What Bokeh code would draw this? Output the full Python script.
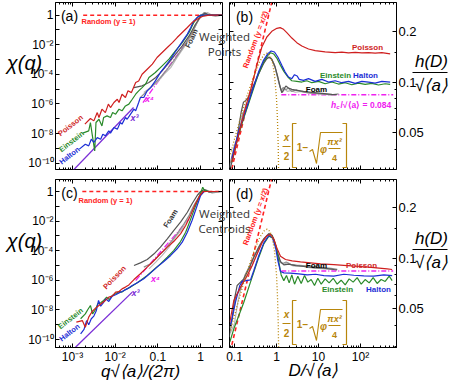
import json
import numpy as np
from bokeh.plotting import figure
from bokeh.models import Range1d, LogAxis, FixedTicker, CustomJSTickFormatter, Label
from bokeh.layouts import row, column
from bokeh.embed import file_html
from bokeh.resources import INLINE

# ======================= DATA =======================
# Panel (a): weighted points, log10 of q*sqrt(<a>)/(2pi) and log10 chi(q)
a_poisson_lq = [-2.71,-2.58,-2.50,-2.42,-2.38,-2.31,-2.23,-2.16,-2.11,-2.03,-1.95,-1.91,-1.84,-1.76,-1.70,-1.62,-1.52,-1.45,-1.37,-1.25,-1.13,-1.02,-0.90,-0.78,-0.66,-0.55,-0.43,-0.31,-0.20,-0.08,0.04,0.20,0.35,0.51]
a_poisson_lchi = [-7.36,-6.98,-7.14,-6.58,-6.91,-6.35,-6.58,-6.01,-6.24,-5.90,-5.68,-5.90,-5.34,-5.56,-5.11,-5.23,-4.55,-4.44,-3.99,-3.65,-3.31,-2.86,-2.52,-2.18,-1.85,-1.51,-1.17,-0.83,-0.50,-0.27,-0.09,0.0,0.0,0.0]
a_einstein_lq = [-2.76,-2.62,-2.58,-2.54,-2.48,-2.45,-2.38,-2.31,-2.27,-2.19,-2.11,-2.06,-1.99,-1.91,-1.84,-1.76,-1.68,-1.60,-1.52,-1.45,-1.37,-1.29,-1.21,-1.06,-0.90,-0.74,-0.59,-0.43,-0.27,-0.16,-0.08,0.0,0.20,0.35,0.51]
a_einstein_lchi = [-7.97,-7.82,-7.25,-8.04,-9.17,-7.25,-7.03,-7.48,-6.91,-6.80,-6.91,-6.58,-6.69,-6.35,-6.46,-6.13,-6.01,-5.68,-5.34,-5.11,-4.89,-4.66,-4.21,-3.87,-3.42,-2.97,-2.41,-1.85,-1.17,-0.50,-0.16,0.0,0.0,0.0,0.0]
a_halton_lq = [-2.84,-2.70,-2.62,-2.56,-2.50,-2.42,-2.34,-2.29,-2.23,-2.15,-2.11,-2.03,-1.95,-1.88,-1.84,-1.76,-1.72,-1.64,-1.56,-1.52,-1.45,-1.41,-1.33,-1.25,-1.17,-1.06,-0.94,-0.82,-0.70,-0.63,-0.55,-0.47,-0.39,-0.31,-0.23,-0.16,-0.08,0.0,0.20,0.35,0.51]
a_halton_lchi = [-9.05,-8.72,-8.83,-8.38,-8.60,-8.27,-8.38,-8.04,-8.15,-7.82,-7.97,-7.59,-7.70,-7.25,-7.36,-6.91,-7.03,-6.69,-6.35,-6.46,-5.90,-5.56,-5.56,-5.11,-4.89,-4.44,-3.87,-3.42,-2.97,-2.64,-2.30,-1.96,-1.62,-1.28,-0.83,-0.38,-0.16,0.0,0.0,0.0,0.0]
a_foam1_lq = [-1.56,-1.37,-1.21,-1.05,-0.90,-0.74,-0.59,-0.43,-0.27,-0.12,0.0,0.10,0.20,0.35,0.53]
a_foam1_lchi = [-4.89,-4.77,-4.55,-4.21,-3.76,-3.20,-2.64,-2.07,-1.40,-0.61,-0.09,0.14,0.0,-0.05,0.0]
a_foam2_lq = [-1.41,-1.25,-1.09,-0.94,-0.78,-0.63,-0.47,-0.31,-0.16,-0.04,0.08,0.18,0.31,0.53]
a_foam2_lchi = [-5.56,-5.11,-4.66,-4.21,-3.65,-3.09,-2.41,-1.73,-0.95,-0.27,0.18,0.05,0.0,0.0]
a_foam3_lq = [-1.33,-1.17,-1.02,-0.86,-0.70,-0.55,-0.39,-0.23,-0.08,0.04,0.16,0.27,0.53]
a_foam3_lchi = [-5.23,-4.89,-4.55,-3.99,-3.54,-2.86,-2.18,-1.40,-0.50,0.07,0.18,0.0,0.0]
a_x4_lq, a_x4_lchi = [-1.35, -0.27], [-5.90, -1.58]
a_x3_lq, a_x3_lchi = [-3.05, -1.57], [-10.68, -6.24]
a_random_lq, a_random_lchi = [-2.75, 0.52], [0.0, 0.0]

# Panel (c): weighted centroids
c_poisson_lq = [-2.91,-2.77,-2.70,-2.62,-2.54,-2.46,-2.38,-2.30,-2.23,-2.15,-2.07,-1.99,-1.91,-1.84,-1.76,-1.68,-1.56,-1.41,-1.25,-1.09,-0.94,-0.78,-0.63,-0.47,-0.35,-0.23,-0.12,-0.02,0.06,0.52]
c_poisson_lchi = [-8.83,-8.72,-9.17,-8.49,-8.11,-7.88,-7.70,-7.52,-7.36,-7.14,-7.07,-6.80,-6.76,-6.58,-6.46,-6.31,-5.95,-5.56,-5.11,-4.66,-4.21,-3.76,-3.38,-2.86,-2.30,-1.58,-0.83,-0.27,0.0,0.0]
c_einstein_lq = [-2.81,-2.70,-2.64,-2.58,-2.53,-2.46,-2.41,-2.34,-2.27,-2.20,-2.14,-2.07,-1.99,-1.91,-1.84,-1.76,-1.64,-1.52,-1.41,-1.25,-1.09,-0.94,-0.78,-0.63,-0.47,-0.35,-0.23,-0.12,-0.02,0.05,0.09,0.20,0.52]
c_einstein_lchi = [-8.60,-8.27,-7.97,-7.70,-8.27,-7.97,-7.59,-7.52,-7.36,-7.14,-7.30,-7.03,-6.91,-6.76,-6.80,-6.62,-6.46,-6.24,-6.01,-5.68,-5.27,-4.89,-4.44,-3.99,-3.38,-2.75,-1.85,-0.99,-0.27,0.29,0.07,0.0,0.0]
c_halton_lq = [-2.81,-2.73,-2.67,-2.62,-2.56,-2.50,-2.44,-2.39,-2.34,-2.28,-2.22,-2.15,-2.07,-1.99,-1.91,-1.84,-1.72,-1.60,-1.48,-1.33,-1.17,-1.02,-0.86,-0.70,-0.55,-0.43,-0.31,-0.20,-0.08,0.0,0.08,0.52]
c_halton_lchi = [-9.62,-9.32,-8.72,-9.01,-8.60,-8.42,-8.04,-7.36,-7.75,-7.52,-7.25,-7.43,-7.07,-6.98,-6.85,-6.76,-6.58,-6.35,-6.17,-5.90,-5.50,-5.11,-4.73,-4.32,-3.87,-3.42,-2.75,-1.96,-0.95,-0.27,0.0,0.0]
c_foam1_lq = [-1.56,-1.41,-1.25,-1.09,-0.94,-0.78,-0.63,-0.47,-0.31,-0.20,-0.08,0.0,0.09,0.20,0.31,0.52]
c_foam1_lchi = [-5.0,-4.82,-4.59,-4.21,-3.76,-3.20,-2.64,-2.07,-1.40,-0.83,-0.27,0.0,0.14,-0.05,0.0,0.0]
c_foam2_lq = [-1.33,-1.17,-1.02,-0.86,-0.70,-0.55,-0.39,-0.27,-0.16,-0.04,0.04,0.14,0.27,0.52]
c_foam2_lchi = [-5.11,-4.89,-4.44,-3.99,-3.42,-2.86,-2.18,-1.62,-0.95,-0.38,-0.05,0.07,-0.09,0.0]
c_foam3_lq = [-1.21,-1.05,-0.90,-0.74,-0.59,-0.43,-0.31,-0.20,-0.08,0.02,0.12,0.23,0.52]
c_foam3_lchi = [-5.23,-4.77,-4.32,-3.76,-3.09,-2.52,-1.85,-1.28,-0.61,-0.16,0.14,-0.05,0.0]
c_x4_lq, c_x4_lchi = [-1.52, -0.27], [-6.01, -1.85]
c_x3_lq, c_x3_lchi = [-2.93, -1.60], [-10.52, -6.80]
c_random_lq, c_random_lchi = [-2.77, 0.52], [0.0, 0.0]

# Panel (b): weighted points, D/sqrt(<a>) and h(D)/sqrt(<a>)
b_poisson_D = [0.0865,0.1245,0.1795,0.259,0.340,0.448,0.589,0.774,1.02,1.22,1.47,1.76,2.32,3.05,4.01,5.78,8.33,14.4,24.9,35.9,51.8,75,108,155,223,322,508]
b_poisson_h = [0.0335,0.0482,0.0695,0.0955,0.1256,0.1614,0.185,0.200,0.2084,0.2104,0.2055,0.1963,0.1824,0.1713,0.1636,0.157,0.1535,0.151,0.1495,0.1505,0.149,0.1498,0.1488,0.1495,0.1485,0.1495,0.147]
b_einstein_D = [0.0864,0.1245,0.1637,0.2154,0.2833,0.3726,0.490,0.622,0.720,0.864,1.037,1.245,1.495,1.862,2.317,3.05,4.01,5.27,6.94,10.0,14.4,20.8,29.9,43.2,62.2,89.6,129,186,268,387,508]
b_einstein_h = [0.0335,0.0482,0.0605,0.0743,0.0913,0.1121,0.1315,0.1440,0.1493,0.1466,0.1376,0.1256,0.1157,0.1071,0.1018,0.1009,0.1,0.1018,0.0991,0.1009,0.0977,0.1,0.0973,0.0991,0.0964,0.0986,0.0969,0.0982,0.0960,0.0977,0.0969]
b_halton_D = [0.0864,0.1245,0.1637,0.2154,0.2833,0.3726,0.490,0.622,0.746,0.896,1.076,1.339,1.607,1.931,2.317,2.683,3.105,3.465,4.395,5.78,8.33,12.0,17.3,24.9,35.9,51.8,74.6,107.6,155,223,322,508]
b_halton_h = [0.0351,0.0505,0.0620,0.0760,0.0934,0.1146,0.1345,0.1474,0.1528,0.1507,0.1408,0.1256,0.1146,0.1071,0.1047,0.1106,0.1086,0.1037,0.1023,0.1047,0.1009,0.1037,0.1,0.1018,0.0991,0.1009,0.0982,0.1009,0.1,0.0986,0.1009,0.1]
b_foam1_D = [0.0788,0.1037,0.1245,0.1442,0.1637,0.1862,0.2154,0.2833,0.3726,0.490,0.589,0.669,0.774,0.929,1.076,1.222,1.339,1.495,1.668,1.931,2.317,3.05,4.395,6.94,12.0,20.8,27.3]
b_foam1_h = [0.0305,0.0402,0.0528,0.0664,0.0760,0.0778,0.0815,0.0955,0.1121,0.1285,0.1376,0.1403,0.1364,0.1227,0.1071,0.0934,0.0864,0.0904,0.0947,0.0921,0.0904,0.0892,0.0880,0.0868,0.0857,0.0845,0.0841]
b_foam2_D = [0.08,0.1,0.13,0.16,0.2,0.24,0.3,0.38,0.48,0.58,0.66,0.76,0.9,1.05,1.2,1.3,1.45,1.65,1.9,2.3,3.0,4.4,7.0,12,20,30]
b_foam2_h = [0.033,0.042,0.05,0.066,0.07,0.085,0.097,0.112,0.128,0.138,0.141,0.137,0.125,0.108,0.095,0.089,0.093,0.09,0.092,0.088,0.09,0.087,0.086,0.085,0.084,0.085]
b_foam3_D = [0.075,0.095,0.12,0.15,0.19,0.22,0.27,0.35,0.45,0.55,0.65,0.75,0.88,1.0,1.15,1.28,1.4,1.6,1.8,2.2,2.8,4,6,10,16,25]
b_foam3_h = [0.031,0.04,0.046,0.06,0.075,0.076,0.09,0.108,0.124,0.136,0.14,0.138,0.128,0.113,0.098,0.09,0.087,0.091,0.088,0.089,0.087,0.088,0.086,0.085,0.0845,0.084]

# Panel (d): weighted centroids
d_poisson_D = [0.0774,0.0964,0.139,0.2004,0.2635,0.3467,0.456,0.600,0.720,0.864,1.037,1.245,1.638,2.361,3.73,6.45,11.2,23.2,48.2,100,207.6,431,567]
d_poisson_h = [0.0417,0.0561,0.0673,0.0789,0.0904,0.1061,0.1245,0.1364,0.1381,0.1303,0.1136,0.1028,0.0982,0.0964,0.0951,0.0938,0.0925,0.0917,0.0904,0.0893,0.0880,0.0865,0.0857]
d_einstein_D = [0.0774,0.0964,0.1268,0.1668,0.2195,0.2885,0.3796,0.499,0.657,0.833,1.0,1.157,1.291,1.495,1.730,2.003,2.317,2.683,3.22,3.87,4.64,5.57,6.69,8.03,9.64,11.6,14.4,17.9,22.4,27.8,34.6,43.2,53.7,66.9,83.3,104,129,161,200,249,310,387,482,567]
d_einstein_h = [0.0318,0.0381,0.0457,0.0548,0.0673,0.0826,0.1014,0.1216,0.1351,0.1315,0.1136,0.0925,0.0796,0.0736,0.0789,0.0714,0.0796,0.0701,0.0782,0.0708,0.0789,0.0721,0.0747,0.0689,0.0760,0.0701,0.0754,0.0714,0.0760,0.0701,0.0740,0.0695,0.0754,0.0721,0.0767,0.0701,0.0747,0.0714,0.0767,0.0708,0.0747,0.0728,0.0782,0.0736]
d_halton_D = [0.0803,0.1056,0.134,0.1523,0.2404,0.2885,0.3796,0.499,0.657,0.789,0.946,1.076,1.245,1.495,2.154,3.40,5.37,8.49,13.4,23.2,40.1,69.4,120,207.6,359,567]
d_halton_h = [0.0398,0.0548,0.0689,0.0728,0.0744,0.0845,0.1037,0.1233,0.1364,0.1334,0.1162,0.0969,0.0833,0.0818,0.0815,0.0807,0.0796,0.0803,0.0789,0.0782,0.0803,0.0792,0.0785,0.0782,0.0796,0.0789]
d_foam1_D = [0.0733,0.0880,0.1,0.1157,0.139,0.1668,0.2195,0.2885,0.3796,0.499,0.657,0.789,0.946,1.076,1.245,1.495,1.966,2.834,4.48,7.74,13.4,23.2,27.8]
d_foam1_h = [0.0381,0.0436,0.0574,0.0689,0.0721,0.0754,0.0865,0.1014,0.1162,0.1303,0.1394,0.1364,0.1200,0.1061,0.0955,0.0913,0.0921,0.0904,0.0893,0.0880,0.0873,0.0857,0.0853]
d_foam2_D = [0.075,0.09,0.11,0.14,0.18,0.23,0.3,0.4,0.52,0.65,0.78,0.92,1.05,1.2,1.4,1.7,2.2,3,5,8,13,20,28]
d_foam2_h = [0.034,0.045,0.06,0.066,0.08,0.09,0.104,0.12,0.132,0.14,0.137,0.124,0.108,0.096,0.093,0.095,0.092,0.091,0.09,0.089,0.088,0.087,0.086]
d_foam3_D = [0.08,0.1,0.12,0.15,0.2,0.25,0.32,0.42,0.55,0.68,0.8,0.95,1.1,1.25,1.5,1.8,2.5,4,6,10,16,25]
d_foam3_h = [0.036,0.041,0.055,0.07,0.078,0.088,0.102,0.119,0.133,0.141,0.135,0.12,0.103,0.094,0.092,0.094,0.09,0.09,0.088,0.087,0.086,0.0855]

# shared reference curves of (b) and (d)
random_D, random_h = [0.0864, 0.774], [0.0306, 0.299]
ruler_D = [0.08,0.1,0.15,0.2,0.3,0.4,0.5,0.6,0.7,0.8,0.9,1.0,1.05,1.1,1.15,1.18,1.19]
ruler_h = [0.0373,0.0458,0.0655,0.0832,0.1122,0.1327,0.1449,0.1487,0.144,0.131,0.1095,0.0796,0.0615,0.0413,0.019,0.0046,0.001]
hc_D, hc_h = [1.3, 600], [0.084, 0.084]

# tick labels
q_labels = {-3: "10⁻³", -2: "10⁻²", -1: "0.1", 0: "1"}
chi_labels = {0: "1", -2: "10⁻²", -4: "10⁻⁴", -6: "10⁻⁶", -8: "10⁻⁸", -10: "10⁻¹⁰"}
D_labels = {-1: "0.1", 0: "1", 1: "10", 2: "10²"}
h_ticks = [0.05, 0.1, 0.2]

# ======================= STYLE / LAYOUT =======================
RED_RANDOM = "#ff2222"
RED = "#cf1f1f"
GREEN = "#2a8a2a"
BLUE = "#1c2ed6"
MAGENTA = "#f020f0"
PURPLE = "#7a2ed6"
GOLD = "#b8860b"
GRAYS = ["#555555", "#8f8f8f", "#b8b8b8"]
FONT = "Liberation Sans"

LQ = (-3.398, 0.513)
A_LCHI = (-10.426, 0.858)
C_LCHI = (-10.54, 0.811)
LD = (-1.119, 2.857)
B_LH = (-1.519, -0.528)
D_LH = (-1.530, -0.533)


def P(a):
    return list(np.power(10.0, np.array(a)))


def log_fmt(mapping):
    js = json.dumps({str(k): v for k, v in mapping.items()}, ensure_ascii=False)
    return CustomJSTickFormatter(code="const M = %s; const e = Math.round(Math.log10(tick)); const s = M[String(e)]; return (s === undefined) ? '' : s;" % js)


EMPTY = "return '';"


def style_axis(ax, major, minor, formatter=None, size="0px", fixed=None):
    ax.ticker = FixedTicker(ticks=major, minor_ticks=minor)
    ax.formatter = formatter if formatter is not None else CustomJSTickFormatter(code=EMPTY)
    ax.major_tick_in = 4
    ax.major_tick_out = 0
    ax.minor_tick_in = 2
    ax.minor_tick_out = 0
    ax.axis_line_color = "black"
    ax.major_tick_line_color = "black"
    ax.minor_tick_line_color = "black"
    ax.major_label_text_font = FONT
    ax.major_label_text_font_size = size
    ax.major_label_text_color = "black"
    ax.major_label_standoff = 2 if size != "0px" else 0
    ax.axis_label = None
    if fixed is not None:
        ax.fixed_location = fixed


q_major = [1e-3, 1e-2, 1e-1, 1.0]
q_minor = [k * 10.0 ** e for e in range(-4, 1) for k in range(2, 10)]
chi_major = [10.0 ** e for e in range(-10, 1)]
D_major = [0.1, 1.0, 10.0, 100.0]
D_minor = [k * 10.0 ** e for e in range(-2, 3) for k in range(2, 10)]
h_minor = [0.03, 0.04, 0.06, 0.07, 0.08, 0.09, 0.15, 0.3]


def new_fig(width, height, lx, ly, bl, br, bt, bb, yloc="left"):
    p = figure(width=width, height=height, x_axis_type="log", y_axis_type="log",
               x_range=Range1d(10 ** lx[0], 10 ** lx[1]), y_range=Range1d(10 ** ly[0], 10 ** ly[1]),
               output_backend="svg", toolbar_location=None, y_axis_location=yloc,
               min_border_left=bl, min_border_right=br, min_border_top=bt, min_border_bottom=bb)
    p.grid.visible = False
    p.outline_line_color = "black"
    p.outline_line_width = 1
    p.border_fill_color = None
    p.background_fill_color = None
    return p


# ---------- left panels (chi) ----------
def chi_panel(height, bt, bb, ly, d, bottom_labels):
    p = new_fig(221, height, LQ, ly, 51, 3, bt, bb)
    if bottom_labels:
        style_axis(p.xaxis[0], q_major, q_minor, log_fmt(q_labels), "12px")
    else:
        style_axis(p.xaxis[0], q_major, q_minor, fixed=10 ** ly[0])
    style_axis(p.yaxis[0], chi_major, [], log_fmt(chi_labels), "12px")
    ax_top = LogAxis()
    style_axis(ax_top, q_major, q_minor, fixed=10 ** ly[1])
    p.add_layout(ax_top, "above")
    ax_r = LogAxis()
    style_axis(ax_r, chi_major, [], fixed=10 ** LQ[1])
    p.add_layout(ax_r, "right")

    p.line(P(d["random"][0]), P(d["random"][1]), line_color=RED_RANDOM, line_width=1.6, line_dash="4 3")
    p.line(P(d["x3"][0]), P(d["x3"][1]), line_color=PURPLE, line_width=1.3)
    p.line(P(d["x4"][0]), P(d["x4"][1]), line_color=MAGENTA, line_width=1.3, line_dash="6 2 1 2")
    for (fx, fy), c in zip(d["foam"], GRAYS[::-1]):
        p.line(P(fx), P(fy), line_color=c, line_width=1.2)
    p.line(P(d["einstein"][0]), P(d["einstein"][1]), line_color=GREEN, line_width=1.2)
    p.line(P(d["halton"][0]), P(d["halton"][1]), line_color=BLUE, line_width=1.2)
    p.line(P(d["poisson"][0]), P(d["poisson"][1]), line_color=RED, line_width=1.2)
    return p


pa = chi_panel(172, 0, 5, A_LCHI, {
    "random": (a_random_lq, a_random_lchi), "x3": (a_x3_lq, a_x3_lchi), "x4": (a_x4_lq, a_x4_lchi),
    "foam": [(a_foam3_lq, a_foam3_lchi), (a_foam2_lq, a_foam2_lchi), (a_foam1_lq, a_foam1_lchi)],
    "einstein": (a_einstein_lq, a_einstein_lchi), "halton": (a_halton_lq, a_halton_lchi),
    "poisson": (a_poisson_lq, a_poisson_lchi)}, False)
pc = chi_panel(208, 5, 35, C_LCHI, {
    "random": (c_random_lq, c_random_lchi), "x3": (c_x3_lq, c_x3_lchi), "x4": (c_x4_lq, c_x4_lchi),
    "foam": [(c_foam3_lq, c_foam3_lchi), (c_foam2_lq, c_foam2_lchi), (c_foam1_lq, c_foam1_lchi)],
    "einstein": (c_einstein_lq, c_einstein_lchi), "halton": (c_halton_lq, c_halton_lchi),
    "poisson": (c_poisson_lq, c_poisson_lchi)}, True)


# ---------- right panels (h) ----------
def h_panel(height, bt, bb, ly, d, bottom_labels):
    p = new_fig(225, height, LD, ly, 4, 54, bt, bb, yloc="right")
    if bottom_labels:
        style_axis(p.xaxis[0], D_major, D_minor, log_fmt(D_labels), "12px")
    else:
        style_axis(p.xaxis[0], D_major, D_minor, fixed=10 ** ly[0])
    style_axis(p.yaxis[0], h_ticks, h_minor, CustomJSTickFormatter(code="return String(tick);"), "13px")
    ax_top = LogAxis()
    style_axis(ax_top, D_major, D_minor, fixed=10 ** ly[1])
    p.add_layout(ax_top, "above")
    ax_l = LogAxis()
    style_axis(ax_l, h_ticks, h_minor, fixed=10 ** LD[0])
    p.add_layout(ax_l, "left")

    p.line(random_D, random_h, line_color=RED_RANDOM, line_width=1.6, line_dash="4 3")
    p.line(hc_D, hc_h, line_color=MAGENTA, line_width=1.4, line_dash="5 2 1 2")
    for (fx, fy), c in zip(d["foam"], GRAYS[::-1]):
        p.line(fx, fy, line_color=c, line_width=1.2)
    p.line(d["einstein"][0], d["einstein"][1], line_color=GREEN, line_width=1.2)
    p.line(d["halton"][0], d["halton"][1], line_color=BLUE, line_width=1.2)
    p.line(d["poisson"][0], d["poisson"][1], line_color=RED, line_width=1.2)
    p.line(ruler_D, ruler_h, line_color=GOLD, line_width=1.3, line_dash="1 2")
    return p


pb = h_panel(172, 0, 5, B_LH, {
    "foam": [(b_foam3_D, b_foam3_h), (b_foam2_D, b_foam2_h), (b_foam1_D, b_foam1_h)],
    "einstein": (b_einstein_D, b_einstein_h), "halton": (b_halton_D, b_halton_h),
    "poisson": (b_poisson_D, b_poisson_h)}, False)
pd_ = h_panel(208, 5, 35, D_LH, {
    "foam": [(d_foam3_D, d_foam3_h), (d_foam2_D, d_foam2_h), (d_foam1_D, d_foam1_h)],
    "einstein": (d_einstein_D, d_einstein_h), "halton": (d_halton_D, d_halton_h),
    "poisson": (d_poisson_D, d_poisson_h)}, True)

# ---------- transparent overlay for all texts (page pixel coordinates) ----------
ov = figure(width=446, height=380, x_range=Range1d(4, 450), y_range=Range1d(382, 2),
            x_axis_location=None, y_axis_location=None, output_backend="svg", toolbar_location=None,
            min_border=0)
ov.grid.visible = False
ov.outline_line_color = None
ov.border_fill_color = None
ov.background_fill_color = None
ov.margin = (-380, 0, 0, 0)


def txt(X, Y, text, size, color="black", angle=0.0, style="bold", font=FONT, align="center"):
    ov.add_layout(Label(x=X, y=Y, text=text, text_font_size="%gpx" % size, text_color=color,
                        angle=angle, text_font_style=style, text_font=font,
                        text_align=align, text_baseline="middle"))


def seg(xs, ys, color, width=1.1):
    ov.line(xs, ys, line_color=color, line_width=width)


# panel (a)
txt(69, 15, "(a)", 14, style="normal")
txt(108, 21, "Random (y = 1)", 7.5, RED_RANDOM)
txt(70, 125, "Poisson", 7.5, RED, angle=0.66)
txt(71, 141, "Einstein", 7.5, GREEN, angle=0.66)
txt(69, 155, "Halton", 7.5, BLUE, angle=0.66)
txt(191, 38, "Foam", 7.5, "#333333", angle=1.13)
txt(134, 117, "x³", 9, PURPLE, style="bold italic")
txt(149, 98, "x⁴", 9, MAGENTA, style="bold italic")
txt(24, 62, "χ(q)", 20, style="italic")
# panel (c)
txt(69, 192, "(c)", 14, style="normal")
txt(105, 200, "Random (y = 1)", 7.5, RED_RANDOM)
txt(114, 277, "Poisson", 7.5, RED, angle=0.8)
txt(70, 318, "Einstein", 7.5, GREEN, angle=0.66)
txt(69, 332, "Halton", 7.5, BLUE, angle=0.66)
txt(170, 218, "Foam", 7.5, "#333333", angle=1.0)
txt(135, 292, "x³", 9, PURPLE, style="bold italic")
txt(155, 278, "x⁴", 9, MAGENTA, style="bold italic")
txt(24, 240, "χ(q)", 20, style="italic")
txt(140, 371, "q√⟨a⟩/(2π)", 17, style="italic")


def h_decor(dy, tag, word):
    txt(244, 16 + dy, tag, 14, style="normal")
    txt(224, 36 + dy, "Weighted", 11.5, "#333333", style="normal", font="Open Sans")
    txt(224, 51 + dy, word, 11.5, "#333333", style="normal", font="Open Sans")
    txt(255, 39 + dy, "Random (y = x/2)", 7.5, RED_RANDOM, angle=1.22)
    # ruler formula
    txt(286, 137 + dy, "x", 10, GOLD, style="bold italic")
    seg([282, 290], [146 + dy, 146 + dy], GOLD)
    txt(286, 155 + dy, "2", 10, GOLD)
    seg([296, 292, 292, 296], [123 + dy, 123 + dy, 167 + dy, 167 + dy], GOLD, 1.2)
    txt(299, 146 + dy, "1", 10, GOLD)
    txt(305, 146 + dy, "−", 10, GOLD)
    seg([309, 312, 316, 320, 342], [151 + dy, 149 + dy, 163 + dy, 132 + dy, 132 + dy], GOLD)
    txt(323, 149 + dy, "φ", 10, GOLD, style="bold italic")
    txt(334, 141 + dy, "πx²", 9, GOLD, style="bold italic")
    seg([328, 340], [148 + dy, 148 + dy], GOLD)
    txt(334, 157 + dy, "4", 9, GOLD)
    seg([342, 346, 346, 342], [123 + dy, 123 + dy, 167 + dy, 167 + dy], GOLD, 1.2)
    # y label
    txt(431, 61 + dy, "h(D)", 17, style="italic")
    seg([412, 447], [72 + dy, 72 + dy], "black", 1.2)
    txt(431, 85 + dy, "√⟨a⟩", 17, style="italic")


h_decor(0, "(b)", "Points")
h_decor(177, "(d)", "Centroids")

# series labels in (b)
txt(367, 47, "Poisson", 8, RED)
txt(335, 75, "Einstein", 8, GREEN)
txt(365, 75, "Halton", 8, BLUE)
txt(316, 89, "Foam", 8, "black")
txt(333, 104, "h", 8.5, MAGENTA, style="bold italic")
txt(337.5, 106, "c", 6, MAGENTA, style="bold italic")
txt(340, 104, "/√⟨a⟩ = 0.084", 8.5, MAGENTA, align="left")
# series labels in (d)
txt(316, 265, "Foam", 8, "black")
txt(361, 265, "Poisson", 8, RED)
txt(337, 289, "Einstein", 8, GREEN)
txt(378, 289, "Halton", 8, BLUE)
txt(313, 370, "D/√⟨a⟩", 17, style="italic")

layout = column(row(pa, pb), row(pc, pd_), ov)
layout.margin = (2, 0, 0, 4)

open("out.html", "w").write(file_html(layout, INLINE))
